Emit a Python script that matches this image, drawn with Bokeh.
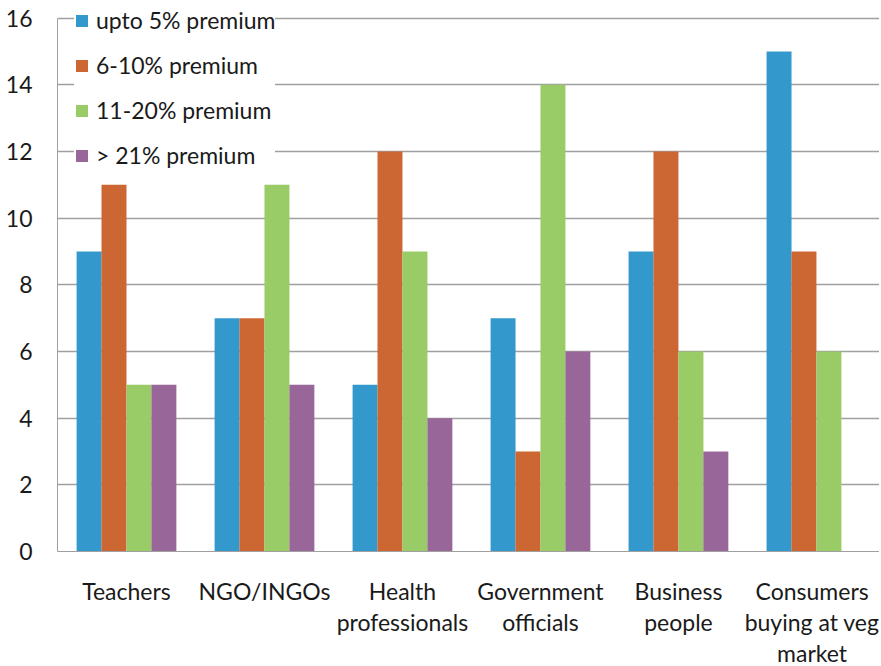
from bokeh.plotting import figure
from bokeh.models import Range1d, Legend, LegendItem, FixedTicker, ColumnDataSource
from bokeh.embed import file_html
from bokeh.resources import INLINE

categories = ["Teachers", "NGO/INGOs", "Health\nprofessionals", "Government\nofficials",
              "Business\npeople", "Consumers\nbuying at veg\nmarket"]
series_names = ["upto 5% premium", "6-10% premium", "11-20% premium", "> 21% premium"]
upto5 = [9, 7, 5, 7, 9, 15]
p6_10 = [11, 7, 12, 3, 12, 9]
p11_20 = [5, 11, 9, 14, 6, 6]
p21 = [5, 5, 4, 6, 3, 0]
colors = ["#3399cc", "#cc6633", "#99cc66", "#996699"]
y_ticks = [0, 2, 4, 6, 8, 10, 12, 14, 16]

FONT = "Lato"

p = figure(frame_width=822, frame_height=550, output_backend="svg", toolbar_location=None,
           x_range=Range1d(0, 5.957), y_range=Range1d(0, 16.5),
           min_border_left=57, min_border_right=0, min_border_top=1, min_border_bottom=0)
p.outline_line_color = None
p.background_fill_color = "white"
p.border_fill_color = "white"

bar_w = 0.181
offsets = [-0.271, -0.0905, 0.0905, 0.271]
all_series = [upto5, p6_10, p11_20, p21]
renderers = []
for vals, off, col in zip(all_series, offsets, colors):
    xs = [i + 0.5 + off for i in range(len(categories))]
    src = ColumnDataSource(dict(x=xs, top=vals))
    r = p.vbar(x="x", top="top", width=bar_w, bottom=0, source=src,
               fill_color=col, line_color=None)
    renderers.append(r)

# axes
p.xaxis.ticker = FixedTicker(ticks=[i + 0.5 for i in range(len(categories))])
p.xaxis.major_label_overrides = {i + 0.5: c for i, c in enumerate(categories)}
p.xaxis.axis_line_color = "#a0a0a0"
p.xaxis.major_tick_line_color = None
p.xaxis.major_tick_out = 0
p.xaxis.major_tick_in = 0
p.xaxis.minor_tick_line_color = None
p.xaxis.major_label_text_font = FONT
p.xaxis.major_label_text_font_size = "23px"
p.xaxis.major_label_text_color = "#1a1a1a"
p.xaxis.major_label_text_line_height = 1.12
p.xaxis.major_label_standoff = 25

p.yaxis.ticker = FixedTicker(ticks=y_ticks)
p.yaxis.bounds = (0, 16)
p.yaxis.axis_line_color = "#a0a0a0"
p.yaxis.major_tick_line_color = None
p.yaxis.major_tick_out = 0
p.yaxis.major_tick_in = 0
p.yaxis.minor_tick_line_color = None
p.yaxis.major_label_text_font = FONT
p.yaxis.major_label_text_font_size = "23px"
p.yaxis.major_label_text_color = "#1a1a1a"
p.yaxis.major_label_standoff = 25

p.xgrid.grid_line_color = None
p.ygrid.grid_line_color = "#a0a0a0"
p.ygrid.grid_line_width = 1.5

legend = Legend(items=[LegendItem(label=n, renderers=[r]) for n, r in zip(series_names, renderers)],
                location=(17, 382))
legend.label_text_font = FONT
legend.label_text_font_size = "23px"
legend.label_text_color = "#1a1a1a"
legend.glyph_width = 15
legend.glyph_height = 15
legend.label_standoff = 7
legend.spacing = 17
legend.padding = 15
legend.border_line_color = None
legend.background_fill_color = "white"
legend.background_fill_alpha = 1.0
p.add_layout(legend, "center")

open("out.html", "w").write(file_html(p, INLINE))
